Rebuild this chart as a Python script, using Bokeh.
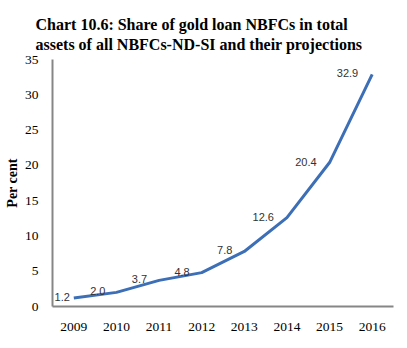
from bokeh.plotting import figure
from bokeh.models import ColumnDataSource, FixedTicker, Label, Range1d, Title
from bokeh.embed import file_html
from bokeh.resources import INLINE

years = ["2009", "2010", "2011", "2012", "2013", "2014", "2015", "2016"]
share = [1.2, 2.0, 3.7, 4.8, 7.8, 12.6, 20.4, 32.9]
share_labels = ["1.2", "2.0", "3.7", "4.8", "7.8", "12.6", "20.4", "32.9"]
y_ticks = [0, 5, 10, 15, 20, 25, 30, 35]
title_lines = ["Chart 10.6: Share of gold loan NBFCs in total",
               "assets of all NBFCs-ND-SI and their projections"]

src = ColumnDataSource(dict(x=years, y=share))

p = figure(width=407, height=348, x_range=years, y_range=Range1d(0, 35),
           output_backend="svg", toolbar_location=None, title=None,
           min_border_left=52, min_border_right=14, min_border_top=59,
           min_border_bottom=42)
p.outline_line_color = None
p.xgrid.grid_line_color = None
p.ygrid.grid_line_color = None
p.background_fill_color = "white"
p.border_fill_color = "white"

p.line("x", "y", source=src, line_color="#3d6fb6", line_width=3)

label_dx = [-4, -11, -12, -12, -12, -13, -13, -14]
for i, (yv, lab) in enumerate(zip(share, share_labels)):
    # categorical synthetic coordinate: factor i is centred at i + 0.5
    p.add_layout(Label(x=i + 0.5, y=yv, text=lab, x_offset=label_dx[i], y_offset=1,
                       text_align="right", text_baseline="middle",
                       text_font="Liberation Sans", text_font_size="11px",
                       text_color="#333333"))

for ax in (p.xaxis[0], p.yaxis[0]):
    ax.axis_line_color = "#868686"
    ax.axis_line_width = 2
    ax.major_tick_line_color = None
    ax.minor_tick_line_color = None
    ax.major_label_text_font = "Liberation Serif"
    ax.major_label_text_font_size = "13.5px"
    ax.major_label_text_color = "black"

p.yaxis.ticker = FixedTicker(ticks=y_ticks)
p.yaxis.major_label_standoff = 8
p.xaxis.major_label_standoff = 10
p.yaxis.axis_label = "Per cent"
p.yaxis.axis_label_text_font = "Liberation Serif"
p.yaxis.axis_label_text_font_style = "bold"
p.yaxis.axis_label_text_font_size = "14px"
p.yaxis.axis_label_text_color = "black"
p.yaxis.axis_label_standoff = 2

p.add_layout(Title(text="\n".join(title_lines), align="left", offset=-17, standoff=12,
                   text_font="Liberation Serif", text_font_style="bold",
                   text_font_size="16px", text_color="black",
                   text_line_height=1.2), "above")

open("out.html", "w").write(file_html(p, INLINE))
